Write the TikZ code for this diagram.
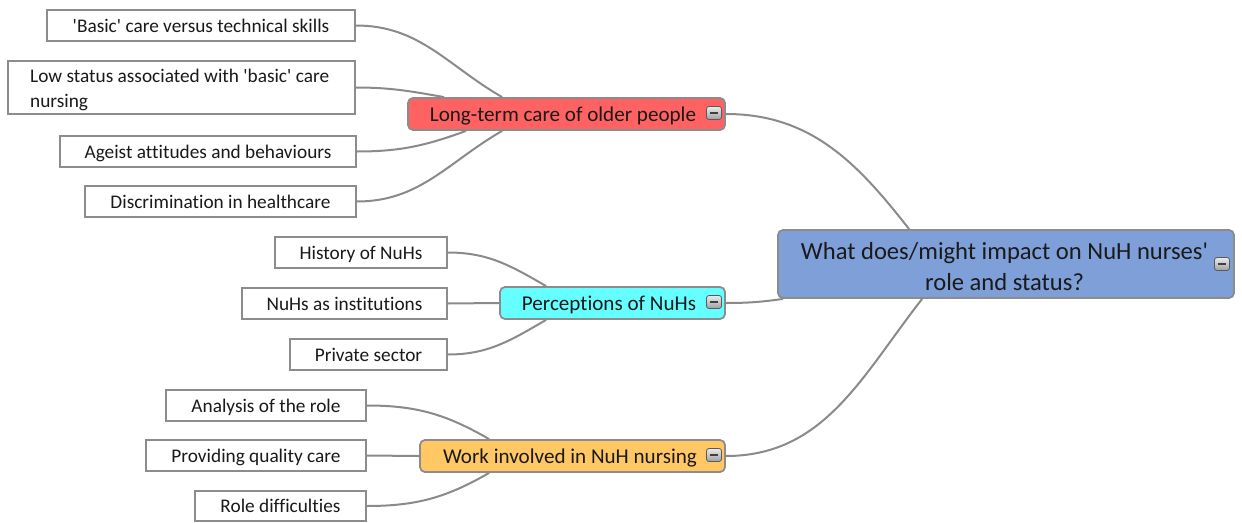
\documentclass[tikz,border=0pt]{standalone}
\usepackage{fontspec}
\setmainfont{Carlito}[Ligatures=NoCommon]
\definecolor{linegray}{HTML}{8A8A8A}
\definecolor{boxgray}{HTML}{8C8C8C}
\definecolor{ltred}{HTML}{FF6262}
\definecolor{pccyan}{HTML}{66FFFF}
\definecolor{wkorange}{HTML}{FFC865}
\definecolor{rootblue}{HTML}{7F9FD8}
\definecolor{txt}{HTML}{1A1A1A}
\newcommand{\sq}{\textquotesingle}
\begin{document}
\begin{tikzpicture}[x=1pt,y=-1pt,
  leaf/.style={draw=boxgray, line width=1.8pt, fill=white, rectangle, inner sep=0pt,
    text height=17pt, text depth=3.4pt,
    text=txt, font=\fontsize{19.3}{24}\selectfont},
  branch/.style={draw=boxgray, line width=1.8pt, rounded corners=5pt, inner sep=0pt,
    minimum height=32pt},
  btext/.style={text=txt, inner sep=0pt, text height=18pt, text depth=3pt,
    font=\fontsize{21.1}{25}\selectfont},
  roottext/.style={text=txt, inner sep=0pt, align=center, font=\fontsize{24.6}{31}\selectfont},
  minusbtn/.style={draw=gray!70!black, line width=0.8pt, rounded corners=2.5pt,
    top color=gray!15, bottom color=gray!75, minimum width=15pt, minimum height=13pt,
    inner sep=0pt,
    path picture={\draw[line width=1.3pt, black!75]
      ([xshift=-4pt]path picture bounding box.center) -- ([xshift=4pt]path picture bounding box.center);}},
  link/.style={draw=linegray, line width=2pt}]
\useasboundingbox (0,0) rectangle (1242,522);

% root topic
\node[branch, fill=rootblue, minimum width=456pt, minimum height=68pt] (root) at (1006,264) {};
\node[roottext] (roottxt) at (1004.5,266.5) {What does/might impact on NuH nurses\sq\\role and status?};
\node[minusbtn] (rootbtn) at (1222,264) {};

% main branches
\node[branch, fill=ltred, minimum width=317pt] (lt) at (566.5,114) {};
\node[btext] (lttxt) at (563,114) {Long-term care of older people};
\node[minusbtn] (ltbtn) at (714,113) {};

\node[branch, fill=pccyan, minimum width=225pt] (pc) at (612.5,303) {};
\node[btext] (pctxt) at (609,303) {Perceptions of NuHs};
\node[minusbtn] (pcbtn) at (714,302) {};

\node[branch, fill=wkorange, minimum width=305pt] (wk) at (572.5,456) {};
\node[btext] (wktxt) at (570,456) {Work involved in NuH nursing};
\node[minusbtn] (wkbtn) at (714,455) {};

% leaves of "Long-term care of older people"
\node[leaf, minimum width=308pt, minimum height=31pt] (l1) at (201,25.5) {\sq Basic\sq\ care versus technical skills};
\node[leaf, minimum width=347pt, minimum height=53pt] (l2) at (181.5,87.5) {};
\node[text=txt, inner sep=0pt, align=left, anchor=west, font=\fontsize{19.3}{25}\selectfont] (l2txt) at (30,90) {Low status associated with \sq basic\sq\ care\\nursing};
\node[leaf, minimum width=296pt, minimum height=31pt] (l3) at (208,151.5) {Ageist attitudes and behaviours};
\node[leaf, minimum width=271pt, minimum height=31pt] (l4) at (220.5,201.5) {Discrimination in healthcare};

% leaves of "Perceptions of NuHs"
\node[leaf, minimum width=172pt, minimum height=31pt] (p1) at (361,252.5) {History of NuHs};
\node[leaf, minimum width=205pt, minimum height=31pt] (p2) at (344.5,303.5) {NuHs as institutions};
\node[leaf, minimum width=157pt, minimum height=31pt] (p3) at (368.5,354.5) {Private sector};

% leaves of "Work involved in NuH nursing"
\node[leaf, minimum width=200pt, minimum height=31pt] (w1) at (266,405.5) {Analysis of the role};
\node[leaf, minimum width=220pt, minimum height=31pt] (w2) at (256,455.5) {Providing quality care};
\node[leaf, minimum width=171pt, minimum height=30pt] (w3) at (280.5,506) {Role difficulties};

% connectors
\path[link] (l1.east) to[out=0,in=150] ([xshift=95pt]lt.north west);
\path[link] (l2.east) to[out=0,in=170] ([xshift=37pt]lt.north west);
\path[link] (l3.east) to[out=0,in=200] ([xshift=59pt]lt.south west);
\path[link] (l4.east) to[out=0,in=210] ([xshift=95pt]lt.south west);

\path[link] (p1.east) to[out=0,in=150] ([xshift=47pt]pc.north west);
\path[link] (p2.east) -- (pc.west);
\path[link] (p3.east) to[out=0,in=210] ([xshift=47pt]pc.south west);

\path[link] (w1.east) to[out=0,in=150] ([xshift=70pt]wk.north west);
\path[link] (w2.east) -- (wk.west);
\path[link] (w3.east) to[out=0,in=210] ([xshift=70pt]wk.south west);

\path[link] (lt.east) to[out=0,in=128] ([xshift=132pt]root.north west);
\path[link] (pc.east) to[out=0,in=188] ([xshift=6pt]root.south west);
\path[link] (wk.east) to[out=0,in=232] ([xshift=145pt]root.south west);
\end{tikzpicture}
\end{document}
